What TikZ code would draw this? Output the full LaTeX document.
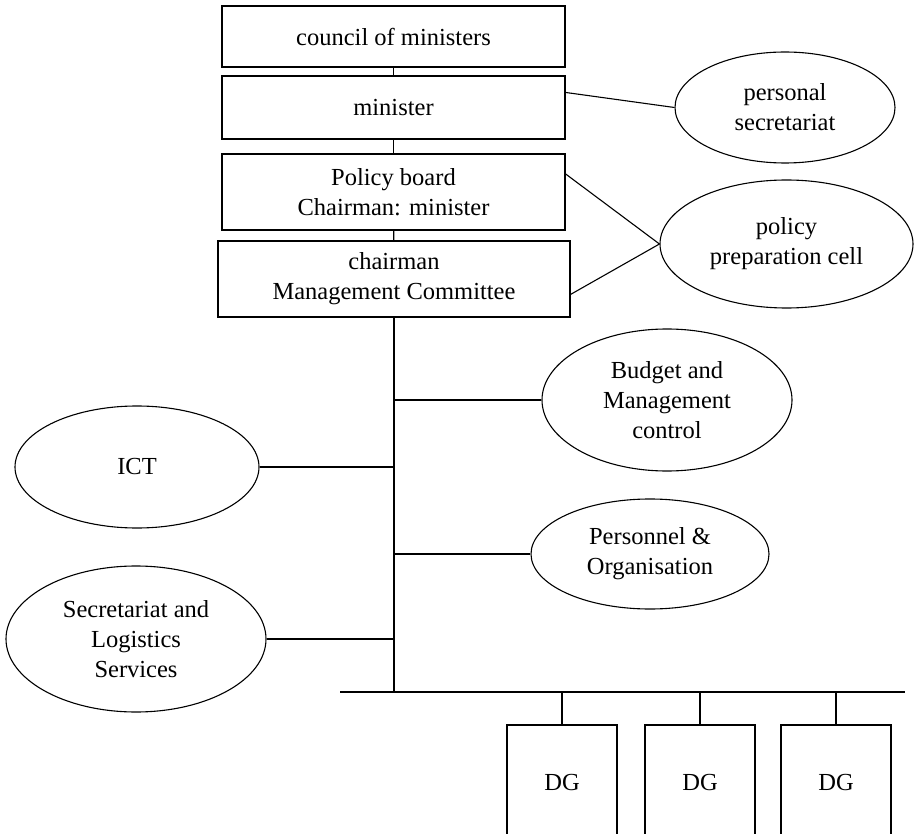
\documentclass[tikz,border=0pt]{standalone}
\usepackage{fontspec}
\setmainfont{Liberation Serif}
\usetikzlibrary{shapes.geometric,positioning}

\begin{document}
\begin{tikzpicture}[x=1pt,y=-1pt,line width=1.1pt,
    box/.style={rectangle,draw,align=center,inner sep=0pt,font=\fontsize{24.5}{30}\selectfont},
    unit/.style={ellipse,draw,align=center,inner sep=0pt,font=\fontsize{24.5}{30}\selectfont}]
    \useasboundingbox (0,0) rectangle (916,834);

    % Boxes
    \node[box,minimum width=343pt,minimum height=61pt] (council) at (393.5,36.5) {council of ministers};
    \node[box,minimum width=343pt,minimum height=63pt] (minister) at (393.5,107.5) {minister};
    \node[box,minimum width=343pt,minimum height=76pt] (board) at (393.5,192) {Policy board\\Chairman: minister};
    \node[box,minimum width=352pt,minimum height=76pt] (chairman) at (394,279) {chairman\\Management Committee};

    % Staff units
    \node[unit,minimum width=220pt,minimum height=111pt] (personal) at (785,107.5) {personal\\secretariat};
    \node[unit,minimum width=253pt,minimum height=128pt] (cell) at (786.5,244) {policy\\preparation cell};
    \node[unit,minimum width=250pt,minimum height=142pt] (budget) at (667,400) {Budget and\\Management\\control};
    \node[unit,minimum width=244pt,minimum height=122pt] (ict) at (137,467) {ICT};
    \node[unit,minimum width=238pt,minimum height=110pt] (personnel) at (650,554) {Personnel \&\\Organisation};
    \node[unit,minimum width=260pt,minimum height=146pt] (logistics) at (136,639) {Secretariat and\\Logistics\\Services};

    \coordinate (busL) at (340,692);
    \coordinate (busR) at (905,692);

    % Lines
    \draw (council) -- (minister);
    \draw (minister) -- (board);
    \draw (board) -- (chairman);
    \draw (minister.5) -- (personal.west);
    \draw (board.6) -- (cell.west);
    \draw (chairman.-5.5) -- (cell.west);
    \draw (chairman.south) -- (chairman.south |- busL);
    \draw (busL) -- (busR);
    \draw (budget.west) -- (budget.west -| chairman.south);
    \draw (ict.east) -- (ict.east -| chairman.south);
    \draw (personnel.west) -- (personnel.west -| chairman.south);
    \draw (logistics.east) -- (logistics.east -| chairman.south);

    % DG boxes
    \foreach \x [count=\i] in {562,700,836} {
        \node[box,minimum width=110pt,minimum height=115pt] (dg\i) at (\x,782.5) {DG};
        \draw (dg\i.north) -- (dg\i.north |- busL);
    }
\end{tikzpicture}
\end{document}
